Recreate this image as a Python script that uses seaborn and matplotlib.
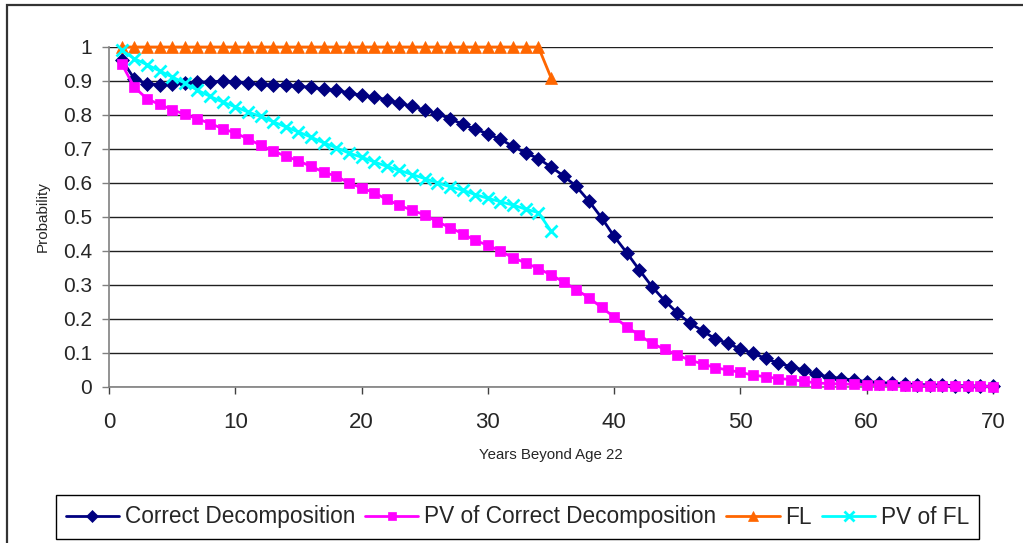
import matplotlib
matplotlib.use("Agg")
import matplotlib.pyplot as plt
from matplotlib.patches import Rectangle
import numpy as np
import pandas as pd
import seaborn as sns

# Years beyond age 22
years = list(range(1, 71))
years_fl = list(range(1, 36))

correct_decomposition = [
    0.963, 0.907, 0.892, 0.889, 0.892, 0.894, 0.897, 0.897, 0.900, 0.897,
    0.894, 0.890, 0.887, 0.887, 0.884, 0.882, 0.876, 0.873, 0.865, 0.858,
    0.853, 0.845, 0.834, 0.826, 0.814, 0.804, 0.789, 0.773, 0.758, 0.745,
    0.728, 0.708, 0.688, 0.672, 0.647, 0.621, 0.590, 0.547, 0.498, 0.443,
    0.395, 0.344, 0.295, 0.254, 0.218, 0.188, 0.165, 0.142, 0.128, 0.112,
    0.099, 0.084, 0.070, 0.060, 0.050, 0.037, 0.030, 0.025, 0.020, 0.016,
    0.013, 0.011, 0.009, 0.007, 0.006, 0.005, 0.004, 0.003, 0.002, 0.002,
]

pv_correct_decomposition = [
    0.951, 0.882, 0.848, 0.831, 0.816, 0.802, 0.789, 0.775, 0.760, 0.747,
    0.730, 0.711, 0.694, 0.679, 0.665, 0.649, 0.632, 0.620, 0.600, 0.586,
    0.571, 0.552, 0.534, 0.520, 0.506, 0.486, 0.469, 0.451, 0.431, 0.417,
    0.400, 0.380, 0.365, 0.348, 0.330, 0.309, 0.286, 0.263, 0.234, 0.206,
    0.177, 0.152, 0.128, 0.111, 0.094, 0.079, 0.068, 0.057, 0.050, 0.043,
    0.035, 0.030, 0.025, 0.022, 0.017, 0.012, 0.010, 0.009, 0.008, 0.007,
    0.006, 0.005, 0.004, 0.004, 0.003, 0.003, 0.002, 0.002, 0.002, 0.001,
]

fl = [1.0] * 34 + [0.91]

pv_fl = [
    0.990, 0.966, 0.948, 0.930, 0.912, 0.894, 0.873, 0.855, 0.838, 0.824,
    0.809, 0.796, 0.780, 0.765, 0.750, 0.735, 0.718, 0.704, 0.688, 0.676,
    0.662, 0.649, 0.637, 0.625, 0.613, 0.601, 0.589, 0.579, 0.566, 0.555,
    0.545, 0.535, 0.523, 0.513, 0.459,
]

series_names = ["Correct Decomposition", "PV of Correct Decomposition", "FL", "PV of FL"]
x_ticks = [0, 10, 20, 30, 40, 50, 60, 70]
y_ticks = [0, 0.1, 0.2, 0.3, 0.4, 0.5, 0.6, 0.7, 0.8, 0.9, 1]
y_tick_labels = ["0", "0.1", "0.2", "0.3", "0.4", "0.5", "0.6", "0.7", "0.8", "0.9", "1"]

sns.set_style("white")
plt.rcParams["font.family"] = ["Liberation Sans", "DejaVu Sans"]

W, H = 1023, 543
fig = plt.figure(figsize=(W / 100, H / 100), dpi=100)
ax = fig.add_axes([109 / W, 1 - 387 / H, 884 / W, 340 / H])

styles = [
    dict(x=years, y=correct_decomposition, color="#000080", marker="D", markersize=7.5,
         markeredgewidth=0.5),
    dict(x=years, y=pv_correct_decomposition, color="#FF00FF", marker="s", markersize=7.5,
         markeredgewidth=0.5),
    dict(x=years_fl, y=fl, color="#FF6600", marker="^", markersize=8.5,
         markeredgewidth=0.5),
    dict(x=years_fl, y=pv_fl, color="#00FFFF", marker="x", markersize=8.5,
         markeredgewidth=2),
]
for name, st in zip(series_names, styles):
    sns.lineplot(x=st["x"], y=st["y"], ax=ax, color=st["color"], marker=st["marker"],
                 markersize=st["markersize"], markeredgecolor=st["color"],
                 markeredgewidth=st["markeredgewidth"], linewidth=2, label=name,
                 clip_on=False, zorder=3)

ax.set_xlim(0, 70)
ax.set_ylim(0, 1)
ax.set_xticks(x_ticks)
ax.set_yticks(y_ticks)
ax.set_yticklabels(y_tick_labels)
ax.yaxis.grid(True, color="#202020", linewidth=1)
ax.xaxis.grid(False)
ax.set_axisbelow(True)

for side in ["top", "right"]:
    ax.spines[side].set_visible(False)
for side in ["left", "bottom"]:
    ax.spines[side].set_color("#808080")
    ax.spines[side].set_linewidth(1.2)

ax.tick_params(axis="y", direction="out", length=5, width=1, color="#808080",
               labelsize=15, pad=7, left=True)
ax.tick_params(axis="x", direction="out", length=5, width=1, color="#404040",
               labelsize=16, pad=13, bottom=True)

ax.set_xlabel("")
ax.set_ylabel("")
fig.text(551 / W, 1 - 455 / H, "Years Beyond Age 22", ha="center", va="center", fontsize=10.8)
fig.text(43 / W, 1 - 217 / H, "Probability", ha="center", va="center", rotation=90,
         fontsize=11)

leg = ax.legend(loc="center", bbox_to_anchor=(517.5 / W, 1 - 517 / H),
                bbox_transform=fig.transFigure, ncol=4, fontsize=16.3, frameon=True,
                fancybox=False, framealpha=1, edgecolor="black", borderpad=0.45,
                handlelength=2.35, handletextpad=0.25, columnspacing=0.45,
                borderaxespad=0, markerscale=0.8)
leg.get_frame().set_linewidth(1)

# outer chart border
fig.patches.append(Rectangle((7 / W, -0.05), 1.1, 1 - 5 / H + 0.05, transform=fig.transFigure,
                             fill=False, edgecolor="#333333", linewidth=1.6, zorder=10))

fig.savefig("out.png", dpi=100)
